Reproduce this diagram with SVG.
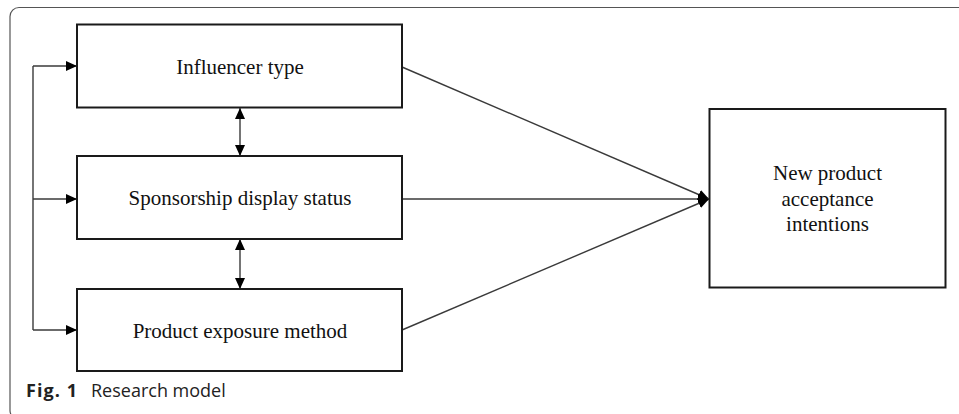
<svg xmlns="http://www.w3.org/2000/svg" width="959" height="414" viewBox="0 0 959 414">
<defs>
<style>
.box{fill:#fff;stroke:#1a1a1a;stroke-width:2}
.lbl{font-family:"Liberation Serif","Times New Roman",serif;font-size:21px;fill:#111;text-anchor:middle}
.con{fill:none;stroke:#3a3a3a;stroke-width:1.4}
.frame{fill:none;stroke:#555;stroke-width:1.2}
</style>
<marker id="ah" markerUnits="userSpaceOnUse" markerWidth="12" markerHeight="12" viewBox="0 0 12 12" refX="11" refY="6" orient="auto-start-reverse">
<path d="M0,1 L11,6 L0,11 z" fill="#000"/>
</marker>
</defs>
<rect class="frame" x="10" y="7.5" width="965" height="412" rx="9"/>
<g id="connectors">
<line class="con" x1="33" y1="66" x2="33" y2="330"/>
<line class="con" x1="33" y1="66" x2="77" y2="66" marker-end="url(#ah)"/>
<line class="con" x1="33" y1="199" x2="77" y2="199" marker-end="url(#ah)"/>
<line class="con" x1="33" y1="330" x2="77" y2="330" marker-end="url(#ah)"/>
<line class="con" x1="240" y1="108" x2="240" y2="156" marker-start="url(#ah)" marker-end="url(#ah)"/>
<line class="con" x1="240" y1="239" x2="240" y2="289" marker-start="url(#ah)" marker-end="url(#ah)"/>
<line class="con" x1="402" y1="67" x2="709" y2="199" marker-end="url(#ah)"/>
<line class="con" x1="402" y1="199" x2="709" y2="199" marker-end="url(#ah)"/>
<line class="con" x1="402" y1="330" x2="709" y2="199" marker-end="url(#ah)"/>
</g>
<g id="influencer-type">
<rect class="box" x="77" y="24.5" width="325" height="83"/>
<text class="lbl" x="240" y="74">Influencer type</text>
</g>
<g id="sponsorship-display-status">
<rect class="box" x="77" y="156" width="325" height="83"/>
<text class="lbl" x="240" y="205">Sponsorship display status</text>
</g>
<g id="product-exposure-method">
<rect class="box" x="77" y="289" width="325" height="82"/>
<text class="lbl" x="240" y="338">Product exposure method</text>
</g>
<g id="new-product-acceptance">
<rect class="box" x="709.5" y="109" width="236" height="178.5"/>
<text class="lbl" x="827.5" y="180">New product</text>
<text class="lbl" x="827.5" y="205.5">acceptance</text>
<text class="lbl" x="827.5" y="231">intentions</text>
</g>
<g id="caption">
<text x="26" y="397" font-family="'Open Sans','Noto Sans',sans-serif" font-size="18" fill="#222"><tspan font-weight="bold" textLength="51" lengthAdjust="spacing">Fig. 1</tspan><tspan x="91">Research model</tspan></text>
</g>
</svg>
